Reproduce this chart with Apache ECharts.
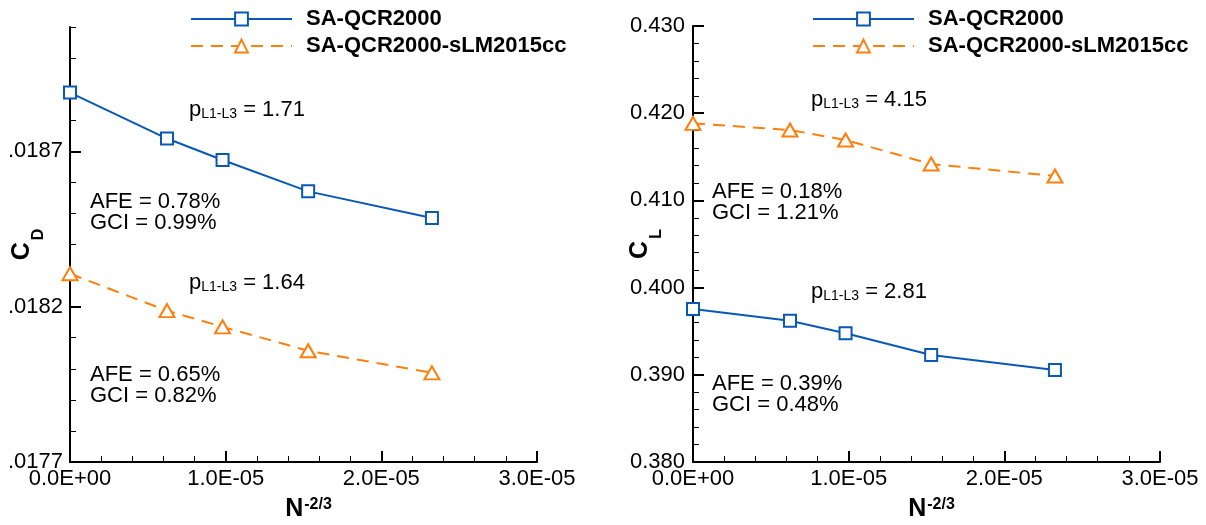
<!DOCTYPE html>
<html>
<head>
<meta charset="utf-8">
<script src="https://cdn.jsdelivr.net/npm/echarts@6/dist/echarts.min.js"></script>
<style>
html,body{margin:0;padding:0;background:#fff;}
#chart{width:1206px;height:525px;}
</style>
</head>
<body>
<div id="chart"></div>
<script>
// ---- data ----
const seriesNames = ['SA-QCR2000', 'SA-QCR2000-sLM2015cc'];
const nInv = [0, 0.623e-5, 0.98e-5, 1.53e-5, 2.325e-5];       // N^-2/3
const cdQcr = [0.018889, 0.018741, 0.018672, 0.018571, 0.018485];
const cdSlm = [0.018306, 0.018187, 0.018135, 0.018058, 0.017987];
const clQcr = [0.39755, 0.39620, 0.39476, 0.39227, 0.39055];
const clSlm = [0.41884, 0.41807, 0.41693, 0.41417, 0.41280];
const cdTickLabels = [0.0177, 0.0182, 0.0187];
const xTicks = [0, 1e-5, 2e-5, 3e-5];
const annCdQcr = ['1.71', '0.78%', '0.99%'];
const annCdSlm = ['1.64', '0.65%', '0.82%'];
const annClSlm = ['4.15', '0.18%', '1.21%'];
const annClQcr = ['2.81', '0.39%', '0.48%'];

const FONT = '"Liberation Sans", Arial, Helvetica, sans-serif';
const BLUE = '#0a58b6';
const ORANGE = '#ff7f0e';

function sci(v) {
  const parts = Number(v).toExponential(1).split('e');
  const n = parseInt(parts[1], 10);
  return parts[0] + 'E' + (n < 0 ? '-' : '+') + String(Math.abs(n)).padStart(2, '0');
}

function xAxisCfg(gridIndex) {
  return {
    type: 'value', gridIndex: gridIndex, min: xTicks[0], max: xTicks[xTicks.length - 1], interval: 1e-5,
    name: '{n|N}{u|-2/3}', nameLocation: 'middle', nameGap: 35, nameMoveOverlap: false,
    nameTextStyle: {
      padding: [0, 0, 0, 10],
      rich: {
        n: { fontSize: 25, fontWeight: 'bold', fontFamily: FONT, color: '#000', lineHeight: 25, verticalAlign: 'bottom' },
        u: { fontSize: 16, fontWeight: 'bold', fontFamily: FONT, color: '#000', lineHeight: 16, verticalAlign: 'top', padding: [0, 0, 15, 1] }
      }
    },
    axisLine: { lineStyle: { color: '#000', width: 2 } },
    axisTick: { inside: true, length: 11, lineStyle: { color: '#000', width: 2 } },
    minorTick: { show: true, splitNumber: 5, length: 6, lineStyle: { color: '#000', width: 1 } },
    splitLine: { show: false }, minorSplitLine: { show: false },
    axisLabel: { fontSize: 22, fontFamily: FONT, color: '#000', margin: 6, formatter: sci }
  };
}

function yName(letter, gap) {
  return {
    name: '{c|C}{s|' + letter + '}', nameLocation: 'middle', nameRotate: 90, nameGap: gap, nameMoveOverlap: false,
    nameTextStyle: {
      rich: {
        c: { fontSize: 25, fontWeight: 'bold', fontFamily: FONT, color: '#000', lineHeight: 25, verticalAlign: 'top' },
        s: { fontSize: 16, fontWeight: 'bold', fontFamily: FONT, color: '#000', lineHeight: 16, verticalAlign: 'top', padding: [21, 0, 0, 2] }
      }
    }
  };
}

function annotations(x, y, vals) {
  const rich = {
    p: { fontSize: 22, fontFamily: FONT, fill: '#000', lineHeight: 22, verticalAlign: 'bottom' },
    s: { fontSize: 14, fontFamily: FONT, fill: '#000', lineHeight: 14, verticalAlign: 'bottom' }
  };
  return [
    { type: 'text', x: x + 99, y: y, style: { text: '{p|p}{s|L1-L3}{p| = ' + vals[0] + '}', rich: rich, verticalAlign: 'middle', fill: '#000' } },
    { type: 'text', x: x, y: y + 92, style: { text: 'AFE = ' + vals[1], font: '22px ' + FONT, fill: '#000', verticalAlign: 'middle' } },
    { type: 'text', x: x, y: y + 113, style: { text: 'GCI = ' + vals[2], font: '22px ' + FONT, fill: '#000', verticalAlign: 'middle' } }
  ];
}

function zip(xs, ys) { return xs.map((x, i) => [x, ys[i]]); }

function seriesPair(xi, yi, qcr, slm) {
  return [
    { type: 'line', name: seriesNames[0], xAxisIndex: xi, yAxisIndex: yi, data: zip(nInv, qcr),
      symbol: 'emptyRect', symbolSize: 12, lineStyle: { color: BLUE, width: 2 },
      itemStyle: { color: BLUE, borderColor: BLUE, borderWidth: 2 }, z: 3 },
    { type: 'line', name: seriesNames[1], xAxisIndex: xi, yAxisIndex: yi, data: zip(nInv, slm),
      symbol: 'emptyTriangle', symbolSize: [15, 13], lineStyle: { color: ORANGE, width: 2, type: [12, 8] },
      itemStyle: { color: ORANGE, borderColor: ORANGE, borderWidth: 2 }, z: 3 }
  ];
}

function legendCfg(left) {
  return {
    left: left, top: 3, orient: 'vertical', itemWidth: 101, itemHeight: 16, itemGap: 5,
    data: seriesNames,
    textStyle: { fontSize: 22, fontWeight: 'bold', fontFamily: FONT, color: '#000', padding: [0, 0, 0, 9] }
  };
}

const chart = echarts.init(document.getElementById('chart'), null, { renderer: 'canvas' });
chart.setOption({
  animation: false,
  backgroundColor: '#fff',
  grid: [
    { left: 70, right: 669, top: 27, bottom: 63, containLabel: false, outerBoundsMode: 'none' },
    { left: 693, right: 46, top: 26, bottom: 63, containLabel: false, outerBoundsMode: 'none' }
  ],
  legend: [legendCfg(185), legendCfg(807)],
  xAxis: [xAxisCfg(0), xAxisCfg(1)],
  yAxis: [
    Object.assign({
      type: 'value', gridIndex: 0, position: 'left', min: 0.0177, max: 0.0191, interval: 0.0005,
      axisLine: { lineStyle: { color: '#000', width: 2 } },
      axisTick: { inside: true, length: 11, lineStyle: { color: '#000', width: 2 }, customValues: cdTickLabels },
      splitLine: { show: false },
      axisLabel: { fontSize: 22, fontFamily: FONT, color: '#000', margin: 7, customValues: cdTickLabels,
        formatter: v => Number(v).toFixed(4).replace(/^0/, '') }
    }, yName('D', 35)),
    {
      type: 'value', gridIndex: 0, position: 'left', min: 0.0177, max: 0.0191, interval: 0.0001,
      axisLine: { show: false }, axisLabel: { show: false }, splitLine: { show: false },
      axisTick: { inside: true, length: 6, lineStyle: { color: '#000', width: 1 } }
    },
    Object.assign({
      type: 'value', gridIndex: 1, position: 'left', min: 0.38, max: 0.43, interval: 0.01,
      axisLine: { lineStyle: { color: '#000', width: 2 } },
      axisTick: { inside: true, length: 11, lineStyle: { color: '#000', width: 2 } },
      minorTick: { show: true, splitNumber: 5, length: 6, lineStyle: { color: '#000', width: 1 } },
      splitLine: { show: false }, minorSplitLine: { show: false },
      axisLabel: { fontSize: 22, fontFamily: FONT, color: '#000', margin: 8, formatter: v => Number(v).toFixed(3) }
    }, yName('L', 40))
  ],
  series: [].concat(seriesPair(0, 0, cdQcr, cdSlm), seriesPair(1, 2, clQcr, clSlm)),
  graphic: [].concat(
    annotations(90, 110, annCdQcr),
    annotations(90, 283, annCdSlm),
    annotations(712, 100, annClSlm),
    annotations(712, 292, annClQcr)
  )
});
</script>
</body>
</html>
